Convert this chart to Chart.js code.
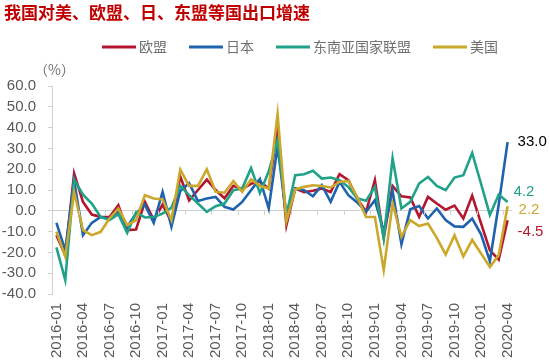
<!DOCTYPE html>
<html>
<head>
<meta charset="utf-8">
<script src="https://cdn.jsdelivr.net/npm/chart.js@4.4.1/dist/chart.umd.min.js"></script>
<style>
  html, body { margin: 0; padding: 0; background: #fff; }
  #wrap { width: 550px; height: 360px; }
</style>
</head>
<body>
<div id="wrap"><canvas id="chart" width="550" height="360"></canvas></div>
<script>
// Monthly categories, 2016-01 .. 2020-04
const months = [
  '2016-01','2016-02','2016-03','2016-04','2016-05','2016-06','2016-07','2016-08','2016-09','2016-10','2016-11','2016-12',
  '2017-01','2017-02','2017-03','2017-04','2017-05','2017-06','2017-07','2017-08','2017-09','2017-10','2017-11','2017-12',
  '2018-01','2018-02','2018-03','2018-04','2018-05','2018-06','2018-07','2018-08','2018-09','2018-10','2018-11','2018-12',
  '2019-01','2019-02','2019-03','2019-04','2019-05','2019-06','2019-07','2019-08','2019-09','2019-10','2019-11','2019-12',
  '2020-01','2020-02','2020-03','2020-04'
];

// Only every third month is labelled on the axis
const tickLabels = [
  '2016-01','2016-04','2016-07','2016-10','2017-01','2017-04','2017-07','2017-10',
  '2018-01','2018-04','2018-07','2018-10','2019-01','2019-04','2019-07','2019-10',
  '2020-01','2020-04'
];

const yTickValues = [-40, -30, -20, -10, 0, 10, 20, 30, 40, 50, 60];

// Export growth, % y/y
const eu = [
  -11.7, -21.5, 18.0, 4.3, -1.8, -2.9, -3.0, 2.7, -9.3, -9.0, 4.3, -4.5,
  3.0, -5.3, 16.5, 5.0, 10.0, 15.0, 10.0, 6.0, 12.0, 10.5, 13.0, 14.0,
  10.7, 40.0, -7.0, 10.7, 9.0, 9.6, 10.7, 9.0, 17.6, 14.7, 6.0, -0.5,
  14.7, -13.0, 12.0, 7.0, 6.4, -2.9, 6.7, 3.5, 0.5, 2.5, -3.7, 7.3,
  -6.0, -19.0, -23.5, -4.5
];
const japan = [
  -5.8, -19.0, 14.5, -11.7, -5.8, -2.9, -4.0, -0.5, -7.7, -1.3, 3.0, -5.8,
  9.1, -7.6, 9.5, 13.3, 4.7, 5.9, 6.7, 1.9, 0.6, 4.3, 9.9, 15.3,
  1.1, 31.0, -3.0, 10.7, 9.9, 7.0, 12.3, 4.3, 13.9, 7.5, 4.0, -0.5,
  5.1, -10.0, 9.5, -16.0, 0.7, 2.3, -3.7, 1.1, -4.5, -7.5, -7.7, -3.7,
  -11.3, -24.2, 3.0, 33.0
];
const asean = [
  -17.6, -33.3, 15.0, 7.8, 3.5, -3.0, -4.5, -1.6, -10.6, -0.8, -3.2, -3.0,
  -1.3, 1.5, 12.0, 7.5, 3.5, -0.5, 2.2, 3.5, 9.9, 10.7, 20.5, 8.5,
  19.0, 34.0, -2.0, 17.1, 17.6, 19.2, 15.5, 16.0, 14.7, 11.5, 6.0, 4.8,
  11.5, -13.3, 25.2, 1.1, 4.3, 13.1, 16.3, 12.0, 9.9, 16.0, 17.1, 27.8,
  13.0, -2.0, 7.8, 4.2
];
const usa = [
  -10.0, -22.0, 9.0, -9.3, -11.7, -10.1, -3.7, 1.1, -6.9, -4.5, 7.5, 5.9,
  5.5, -4.5, 19.8, 12.0, 12.0, 19.9, 9.1, 8.7, 14.3, 9.1, 15.1, 12.0,
  10.7, 46.5, -5.0, 10.3, 11.5, 12.3, 11.9, 11.2, 13.9, 14.4, 6.7, -3.0,
  -3.0, -28.5, 3.5, -12.5, -4.5, -7.3, -6.1, -13.0, -21.0, -11.7, -22.0, -14.0,
  -20.5, -27.0, -21.3, 2.2
];

const seriesNames = ['欧盟', '日本', '东南亚国家联盟', '美国'];
const seriesColors = ['#B3162E', '#1F63AE', '#1FA287', '#CBA82B'];
const endLabelColors = ['#B3162E', '#000000', '#1FA287', '#CBA82B'];
// nudges so the end labels do not collide
const endLabelOffsets = [[10, 12], [10, 0], [6, -10], [11, 4]];

const TEXT_GREY = '#595959';
const AXIS_GREY = '#d0d0d0';
const CJK = '"Noto Sans CJK SC", "Noto Sans", sans-serif';
const LATIN = '"Liberation Sans", Arial, sans-serif';

/**
 * Extra drawing: title, legend, unit, end labels, ticks on the zero line
 */
const decorations = {
  id: 'decorations',
  afterDatasetsDraw(chart) {
    const ctx = chart.ctx;
    const x = chart.scales.x;
    const y = chart.scales.y;
    ctx.save();

    // tick marks on the zero line, between categories
    const zeroY = y.getPixelForValue(0);
    const half = (x.getPixelForValue(1) - x.getPixelForValue(0)) / 2;
    ctx.strokeStyle = AXIS_GREY;
    ctx.lineWidth = 1;
    months.forEach((m, i) => {
      if (!tickLabels.includes(m)) return;
      const px = Math.round(x.getPixelForValue(i) - half) + 0.5;
      ctx.beginPath();
      ctx.moveTo(px, zeroY);
      ctx.lineTo(px, zeroY + 4);
      ctx.stroke();
    });

    // end-of-series value labels
    ctx.font = '15px ' + LATIN;
    ctx.textAlign = 'left';
    ctx.textBaseline = 'middle';
    chart.data.datasets.forEach((ds, i) => {
      const meta = chart.getDatasetMeta(i);
      const pt = meta.data[meta.data.length - 1];
      const val = ds.data[ds.data.length - 1];
      ctx.fillStyle = endLabelColors[i];
      ctx.fillText(val.toFixed(1), pt.x + endLabelOffsets[i][0], pt.y + endLabelOffsets[i][1]);
    });
    ctx.restore();
  },
  afterDraw(chart) {
    const ctx = chart.ctx;
    ctx.save();

    // title
    ctx.font = 'bold 17px ' + CJK;
    ctx.fillStyle = '#C00000';
    ctx.textAlign = 'left';
    ctx.textBaseline = 'middle';
    ctx.fillText('我国对美、欧盟、日、东盟等国出口增速', 4, 13);

    // legend
    ctx.font = '14px ' + CJK;
    let lx = 102;
    const ly = 47;
    seriesNames.forEach((name, i) => {
      ctx.fillStyle = seriesColors[i];
      ctx.fillRect(lx, ly - 1.5, 34, 3);
      lx += 37;
      ctx.fillStyle = '#707070';
      ctx.fillText(name, lx, ly);
      lx += ctx.measureText(name).width + 22;
    });

    // unit
    ctx.fillStyle = '#707070';
    ctx.fillText('（%）', 34, 70);
    ctx.restore();
  }
};

const datasets = [eu, japan, asean, usa].map((values, i) => ({
  label: seriesNames[i],
  data: values,
  borderColor: seriesColors[i],
  backgroundColor: seriesColors[i],
  borderWidth: 2.6,
  pointRadius: 0,
  tension: 0,
  order: 3 - i,
}));

new Chart(document.getElementById('chart'), {
  type: 'line',
  data: { labels: months, datasets },
  options: {
    responsive: false,
    animation: false,
    layout: { padding: { top: 86, right: 38, bottom: 0, left: 2 } },
    plugins: {
      legend: { display: false },
      title: { display: false },
      tooltip: { enabled: false },
    },
    scales: {
      x: {
        type: 'category',
        offset: true,
        grid: { display: false, drawTicks: false },
        border: { display: false },
        afterFit: (scale) => { scale.height = 66; },
        ticks: {
          autoSkip: false,
          minRotation: 90,
          maxRotation: 90,
          padding: 9,
          color: TEXT_GREY,
          font: { family: LATIN, size: 15 },
          callback: function(val, i) {
            const m = months[i];
            return tickLabels.includes(m) ? m : '';
          },
        },
      },
      y: {
        min: yTickValues[0],
        max: yTickValues[yTickValues.length - 1],
        afterBuildTicks: (scale) => {
          scale.ticks = yTickValues.map(v => ({ value: v }));
        },
        afterFit: (scale) => { scale.width = 50; },
        grid: {
          color: (c) => (c.tick && c.tick.value === 0 ? AXIS_GREY : 'rgba(0,0,0,0)'),
          tickColor: AXIS_GREY,
          tickLength: 4,
        },
        border: { display: true, color: AXIS_GREY },
        ticks: {
          autoSkip: false,
          padding: 12,
          color: TEXT_GREY,
          font: { family: LATIN, size: 15 },
          callback: (v) => Number(v).toFixed(1),
        },
      },
    },
  },
  plugins: [decorations],
});
</script>
</body>
</html>
